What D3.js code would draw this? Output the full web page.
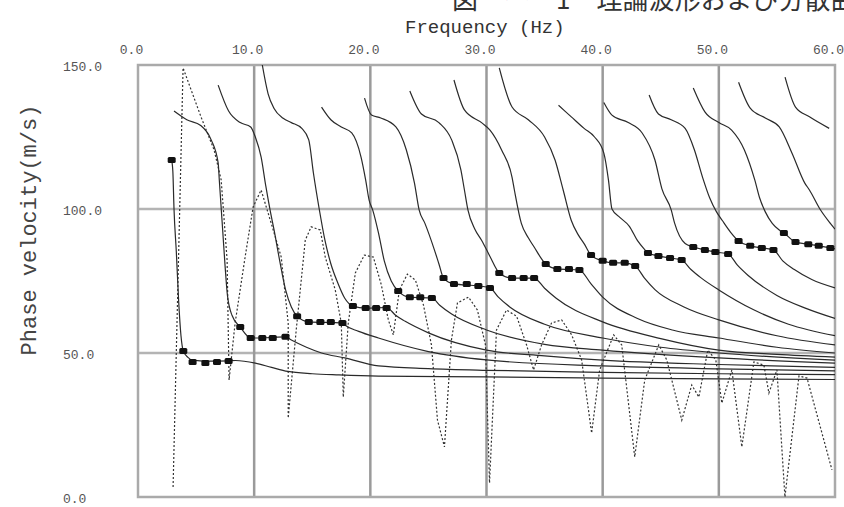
<!DOCTYPE html>
<html>
<head>
<meta charset="utf-8">
<script src="https://cdn.jsdelivr.net/npm/d3@7"></script>
<style>
  body { margin: 0; background: #fff; }
  svg { display: block; }
</style>
</head>
<body>
<div id="chart"></div>
<script>
// tick labels
const freqTicks = [0, 10, 20, 30, 40, 50, 60];
const velTicks = [0, 50, 100, 150];

// theoretical dispersion curves, [frequency Hz, phase velocity m/s]
const mode0 = [[2.9,117],[3.0,113],[3.1,100],[3.3,85],[3.5,68],[3.7,56],[3.9,50.7],[4.3,48.5],[4.7,47.5],[6,47.2],[7.8,47.3],[8.4,47.4],[10.1,46.5],[11.5,45],[12.9,43.6],[15,42.8],[17.3,42.4],[20.7,42],[30,41.7],[40,41.3],[50,41],[60,40.8]];
const mode1 = [[3.1,134],[4.2,131],[5.4,129],[6.3,124],[6.9,116],[7.0,110],[7.1,104],[7.3,92],[7.5,80],[7.7,70],[8.1,63],[8.8,59],[9.7,55.2],[11,55.3],[12.7,55.6],[13.2,54.5],[14.5,52],[15.8,50],[17.8,48.3],[20.7,45.5],[25,44.6],[30,44],[40,43.3],[50,42.8],[60,42.5]];
const mode2 = [[6.9,143],[7.8,134],[8.8,130],[9.7,128.5],[10.1,125],[10.6,118],[11.0,108],[11.4,99],[11.7,93],[12.2,82],[12.7,72],[13.2,66],[13.7,62.8],[14.7,60.8],[17.6,60.4],[17.8,59.7],[19,57.5],[20.7,55.2],[25,50.5],[30,47.6],[40,45.5],[50,44.5],[60,43.8]];
const mode3 = [[10.7,150],[11.2,140],[11.7,135],[12.5,131.5],[13.2,130],[14.1,128],[14.7,124],[15.1,112.5],[15.6,100],[16.1,89],[16.6,81],[17.2,74.3],[17.8,69],[18.5,66.3],[19.6,65.6],[21.4,65.8],[22.2,63],[23,61],[25,57],[30,51],[35,49],[40,47.5],[50,46],[60,45]];
const mode4 = [[15.8,135.4],[16.6,131],[17.5,128.5],[18.4,126.4],[19.2,118],[19.6,110],[19.9,103],[20.2,99.7],[20.7,91.7],[21.2,82],[21.8,75],[22.4,71.5],[23.4,69.4],[25.3,69.1],[26,66.5],[27,63.5],[30,58],[35,53],[40,51],[50,48.3],[60,46.5]];
const mode5 = [[19.5,138.5],[20.1,132.6],[20.9,131.6],[22.2,128.5],[23.1,120.5],[23.8,109],[24.2,99.7],[24.7,95],[25.5,86],[25.9,81],[26.3,76],[27.2,74],[29.3,73.3],[30.3,72.6],[31,69.5],[32,66],[35,60],[40,55.2],[45,52],[50,50],[60,47.5]];
const mode6 = [[23.4,141],[24.4,133],[25.9,130],[27,124],[27.8,113.5],[28.1,106.6],[28.4,99.7],[29.0,93],[29.6,89],[30.3,83.5],[31.1,77.8],[32.2,76],[34.1,76],[35,72.5],[36,69],[40,60.8],[45,55],[50,51],[55,49.5],[60,48.6]];
const mode7 = [[27.2,144.8],[28.1,134.4],[29.6,129.9],[30.3,127.4],[31.3,120.5],[32.2,111],[32.4,106.6],[33,95],[33.6,90],[34.1,86.8],[35.1,80.9],[36.1,79.2],[38,78.8],[39,74],[40,69.4],[43,62],[46,58],[50,55.2],[55,52],[60,50]];
const mode8 = [[31.1,149],[32.2,135.4],[33.6,131],[35,125],[35.9,117],[36.6,106.6],[37.3,96],[37.9,91],[38.4,88],[39,84],[40,82],[40.9,81.3],[41.8,81.3],[42.8,80.2],[43.6,76],[44.5,72],[47,66],[50,61.5],[55,56],[60,52.8]];
const mode9 = [[36.2,136],[37.3,132],[38.4,128],[39.3,125],[40.1,119.4],[40.5,110],[40.8,100],[41.5,97],[42.3,94],[43,89],[43.6,86],[43.9,84.7],[44.8,83.7],[45.8,83],[46.8,82.3],[47.6,79],[48.5,76],[50,71.9],[53,65],[56,60],[60,56]];
const mode10 = [[40.1,137],[40.8,132.6],[42.2,130],[43.4,126.4],[44.5,117],[45.1,107],[45.9,99.7],[46.2,95],[47.1,88],[47.8,86.8],[48.8,85.8],[49.8,85],[50.8,84.4],[51.6,80.5],[52.5,77],[55,70],[57.5,65.5],[60,62]];
const mode11 = [[44,139.6],[44.8,133],[45.9,131],[47.1,128],[47.9,120.5],[48.6,111],[49.2,104],[49.8,99],[50.3,96],[51.0,92],[51.7,88.9],[52.7,87.2],[53.7,86.5],[54.7,85.8],[55.5,82],[56.5,79],[58,75.5],[60,72.6]];
const mode12 = [[47.8,142],[48.8,133.7],[50,130],[51.1,127.4],[52.2,120.5],[53.1,110],[53.5,104],[54,99],[54.6,95],[55.2,92.7],[55.6,91.7],[56.6,88.5],[57.7,87.8],[58.6,87.2],[59.6,86.5],[60,86.2]];
const mode13 = [[51.7,144],[52.7,135],[54,131.6],[55.2,128.5],[56.3,119.4],[57.4,109],[57.8,106.6],[58.7,100],[59.6,95],[60,93]];
const mode14 = [[55.7,145.8],[56.6,135.4],[57.8,132],[59.5,128]];
const modes = [mode0, mode1, mode2, mode3, mode4, mode5, mode6, mode7, mode8, mode9, mode10, mode11, mode12, mode13, mode14];

// observed phase velocities (black squares)
const obsFreq = [2.9, 3.9,4.7,5.8,6.8,7.8, 8.8,9.7,10.7,11.6,12.7, 13.7,14.7,15.7,16.6,17.6, 18.5,19.6,20.5,21.4, 22.4,23.4,24.3,25.3, 26.3,27.2,28.3,29.3,30.3, 31.1,32.2,33.2,34.1, 35.1,36.1,37.1,38, 39,40,40.9,41.9,42.8, 43.9,44.8,45.8,46.8, 47.8,48.8,49.7,50.8, 51.7,52.7,53.7,54.7, 55.6,56.6,57.7,58.6,59.6];
const obsVel = [117, 50.7,46.9,46.5,46.9,47.2, 59,55.2,55.2,55.2,55.6, 62.8,60.8,60.8,60.8,60.4, 66.3,65.6,65.6,65.6, 71.5,69.4,69.4,69.1, 76,74,74,73.3,72.6, 77.8,76,76,76, 80.9,79.2,79.2,78.8, 84,82,81.3,81.3,80.2, 84.7,83.7,83,82.3, 86.8,85.8,85.1,84.4, 88.9,87.2,86.5,85.8, 91.7,88.5,87.8,87.2,86.5];

// dotted curve
const dotFreq = [3.02,3.88,5.43,6.55,7.16,7.67,7.84,8.36,9.22,9.91,10.6,11.64,12.33,12.93,12.93,13.62,14.4,14.91,15.69,16.12,16.98,17.5,17.67,18.1,18.71,19.48,20.26,20.95,21.55,21.98,22.5,23.19,23.88,24.57,25.26,25.78,26.38,26.98,27.5,28.45,29.22,29.91,30.26,30.86,31.72,32.59,33.45,34.05,34.74,35.6,36.47,37.33,38.19,39.05,39.74,40.95,41.64,42.76,43.62,44.83,45.52,46.81,47.67,48.28,49.05,49.74,50.26,51.12,51.98,53.02,53.88,54.31,55.0,55.69,56.9,57.59,59.74];
const dotVel = [3.5,149,131.9,120.5,110.1,82.3,40.6,60.4,83.3,100.7,106.6,92.7,83.3,60.4,27.4,58,89.2,93.8,92.7,83.3,71.9,60.4,34.7,60.4,77.8,84,83.3,73.6,61.5,56.3,71.9,77.4,75.3,66.7,52.8,26.7,17.4,54.5,67.4,69.4,64.9,52.8,4.9,58,64.9,62.8,52.8,44.1,52.8,60.4,61.5,56.3,47.6,22.2,44.1,56.3,52.8,13.9,40.6,52.8,47.6,26.7,38.9,34.7,51,47.6,32.6,44.1,17.4,46.9,45.8,36.1,44.1,0,42,41.3,9.4];

const svgWidth = 844;
const svgHeight = 507;

let svg = d3.select('#chart')
    .append('svg')
    .attr('width', svgWidth)
    .attr('height', svgHeight)

let x = d3.scaleLinear().domain([0, 60]).range([138, 835])
let y = d3.scaleLinear().domain([0, 150]).range([497, 65])

// clipped plot region
svg.append('clipPath').attr('id', 'plotClip')
    .append('rect')
    .attr('x', x(0)).attr('y', y(150))
    .attr('width', x(60) - x(0)).attr('height', y(0) - y(150))

// grid
svg.append('g').selectAll('line')
    .data(velTicks.filter(d => d > 0 && d < 150))
    .enter().append('line')
    .attr('x1', x(0)).attr('x2', x(60))
    .attr('y1', d => y(d)).attr('y2', d => y(d))
    .attr('stroke', '#b4b4b4').attr('stroke-width', 2.5)

svg.append('g').selectAll('line')
    .data(freqTicks.filter(d => d > 0 && d < 60))
    .enter().append('line')
    .attr('x1', d => x(d)).attr('x2', d => x(d))
    .attr('y1', y(0)).attr('y2', y(150))
    .attr('stroke', '#9a9a9a').attr('stroke-width', 2.5)

svg.append('rect')
    .attr('x', x(0)).attr('y', y(150))
    .attr('width', x(60) - x(0)).attr('height', y(0) - y(150))
    .attr('fill', 'none').attr('stroke', '#aaa').attr('stroke-width', 2.5)

let line = d3.line().x(d => x(d[0])).y(d => y(d[1]))

let plot = svg.append('g').attr('clip-path', 'url(#plotClip)')

// dotted curve
let dots = dotFreq.map((f, i) => [f, dotVel[i]])
plot.append('path')
    .datum(dots)
    .attr('d', line)
    .attr('fill', 'none')
    .attr('stroke', '#333')
    .attr('stroke-width', 1.2)
    .attr('stroke-dasharray', '2,2')

// theoretical modes
plot.selectAll('.mode')
    .data(modes)
    .enter().append('path')
    .attr('class', 'mode')
    .attr('d', d3.line().curve(d3.curveMonotoneX).x(d => x(d[0])).y(d => y(d[1])))
    .attr('fill', 'none')
    .attr('stroke', '#2a2a2a')
    .attr('stroke-width', 1.2)

// observed points
svg.append('g').selectAll('rect')
    .data(obsFreq.map((f, i) => [f, obsVel[i]]))
    .enter().append('rect')
    .attr('x', d => x(d[0]) - 4)
    .attr('y', d => y(d[1]) - 3)
    .attr('width', 8).attr('height', 6)
    .attr('rx', 1.5)
    .attr('fill', '#111')

// axes
let topAxis = d3.axisTop(x).tickValues(freqTicks).tickFormat(d3.format('.1f')).tickSize(0).tickPadding(0)
let gx = svg.append('g')
    .attr('transform', 'translate(-7, 54)')
    .call(topAxis)
gx.select('.domain').remove()
gx.selectAll('text')
    .attr('font-family', 'Liberation Mono, monospace')
    .attr('font-size', 13)
    .attr('fill', '#555')

let leftAxis = d3.axisLeft(y).tickValues(velTicks).tickFormat(d3.format('.1f')).tickSize(0)
let gy = svg.append('g')
    .attr('transform', 'translate(63, 1)')
    .call(leftAxis)
gy.select('.domain').remove()
gy.selectAll('text')
    .attr('x', 0)
    .attr('text-anchor', 'start')
    .attr('font-family', 'Liberation Mono, monospace')
    .attr('font-size', 13)
    .attr('fill', '#555')

// titles
svg.append('text')
    .attr('x', 405).attr('y', 33)
    .attr('font-family', 'Liberation Mono, monospace')
    .attr('font-size', 19)
    .attr('fill', '#333')
    .text('Frequency (Hz)')

svg.append('text')
    .attr('transform', 'translate(36, 230) rotate(-90)')
    .attr('text-anchor', 'middle')
    .attr('font-family', 'Liberation Mono, monospace')
    .attr('font-size', 22)
    .attr('fill', '#444')
    .text('Phase velocity(m/s)')

// caption, cut off by the top of the page
svg.append('text')
    .attr('x', 452).attr('y', 9)
    .attr('font-family', 'Noto Sans CJK JP, sans-serif')
    .attr('font-size', 26)
    .attr('fill', '#333')
    .style('white-space', 'pre')
    .text('図　ー　1　理論波形および分散曲線')
</script>
</body>
</html>
